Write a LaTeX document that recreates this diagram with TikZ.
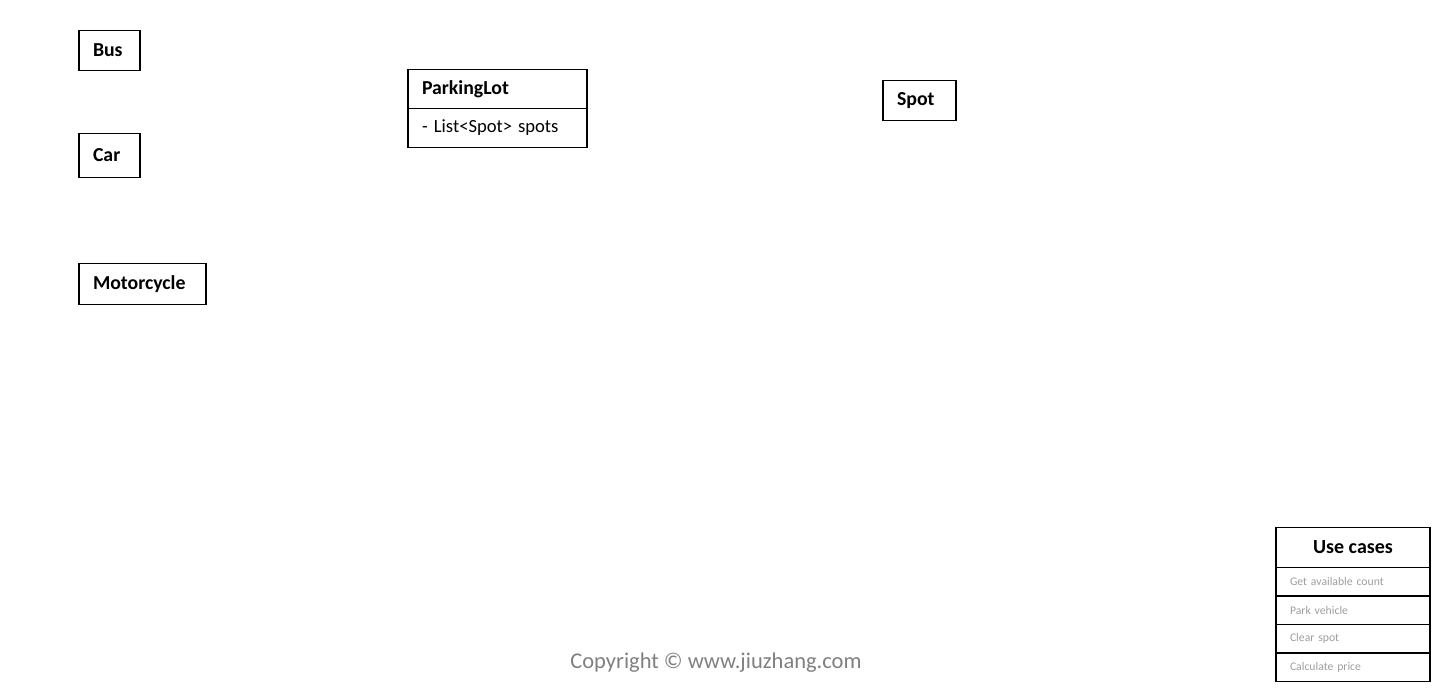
\documentclass[tikz,border=0pt]{standalone}
\usepackage{fontspec}
\setmainfont{Carlito}
\begin{document}
\begin{tikzpicture}[x=1pt,y=-1pt,
  base/.style={draw=black,line width=1.8pt,anchor=north west,outer sep=0pt},
  cls/.style={base,inner xsep=14pt,inner ysep=0pt,
    font=\fontsize{19.8}{24}\selectfont\bfseries,align=left},
  attr/.style={base,inner xsep=14pt,inner ysep=0pt,
    font=\fontsize{18.6}{24}\selectfont,align=left},
  uchead/.style={base,inner sep=0pt,
    minimum width=154pt,minimum height=40pt,font=\fontsize{20}{24}\selectfont\bfseries},
  ucrow/.style={base,inner xsep=14pt,inner ysep=0pt,
    minimum height=28.5pt,text width=126pt,align=left,text=black!38,font=\fontsize{11.7}{14}\selectfont}]
\useasboundingbox (0,0) rectangle (1433,688);
\node[cls,minimum width=61pt,minimum height=40pt,text width=33pt] (bus) at (79,30.5) {Bus};
\node[cls,minimum width=61pt,minimum height=44pt,text width=33pt] (car) at (79,133.5) {Car};
\node[cls,minimum width=127pt,minimum height=41pt,text width=99pt] (moto) at (79,263.5) {Motorcycle};
\node[cls,minimum width=179pt,minimum height=39pt,text width=151pt] (plh) at (408,69.5) {ParkingLot};
\node[attr,minimum width=179pt,minimum height=39pt,text width=151pt] (pla) at (plh.south west) {- List<Spot>\hspace{6pt}spots};
\node[cls,minimum width=73pt,minimum height=40pt,text width=45pt] (spot) at (883,80.5) {Spot};
\node[uchead] (uc) at (1276,527.5) {Use cases};
\node[ucrow] (uc1) at (uc.south west) {Get available count};
\node[ucrow] (uc2) at (uc1.south west) {Park vehicle};
\node[ucrow] (uc3) at (uc2.south west) {Clear spot};
\node[ucrow] (uc4) at (uc3.south west) {Calculate price};
\node[text=black!50,font=\fontsize{22.5}{26}\selectfont] (copy) at (716,663) {Copyright © www.jiuzhang.com};
\end{tikzpicture}
\end{document}
